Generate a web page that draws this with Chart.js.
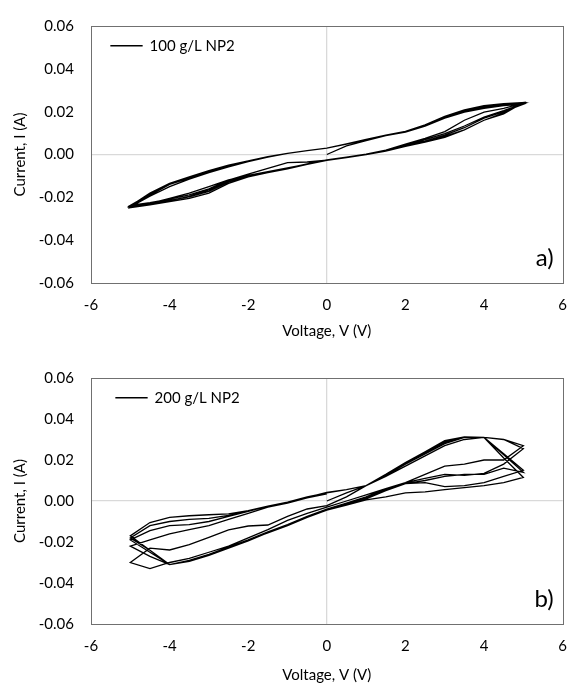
<!DOCTYPE html>
<html>
<head>
<meta charset="utf-8">
<script src="https://cdn.jsdelivr.net/npm/chart.js@4/dist/chart.umd.min.js"></script>
<style>
  html, body { margin: 0; padding: 0; background: #ffffff; }
  .wrap { position: relative; width: 580px; }
  #boxA { position: relative; width: 580px; height: 340px; }
  #boxB { position: relative; width: 580px; height: 344px; }
</style>
</head>
<body>
<div class="wrap">
  <div id="boxA"><canvas id="chartA"></canvas></div>
  <div id="boxB"><canvas id="chartB"></canvas></div>
</div>
<script>
// ---------- sweep voltages (one cycle after the start point: 0.5 -> 5 -> -5 -> 0) ----------
const sweepV = [0.5, 1, 1.5, 2, 2.5, 3, 3.5, 4, 4.5, 5,
                4.5, 4, 3.5, 3, 2.5, 2, 1.5, 1, 0.5, 0,
                -0.5, -1, -1.5, -2, -2.5, -3, -3.5, -4, -4.5, -5,
                -4.5, -4, -3.5, -3, -2.5, -2, -1.5, -1, -0.5, 0];
const startV = 0;

// ---------- axis ticks ----------
const xTicks = [-6, -4, -2, 0, 2, 4, 6];
const yTicks = [-0.06, -0.04, -0.02, 0.00, 0.02, 0.04, 0.06];

// ---------- panel a: 100 g/L NP2 (current, A) ----------
const labelA = "100 g/L NP2";
const startIA = 0.000;
const a1 = [0.0040, 0.0065, 0.0088, 0.0105, 0.0135, 0.0172, 0.0200, 0.0220, 0.0232, 0.0238,
            0.0205, 0.0175, 0.0133, 0.0098, 0.0070, 0.0045, 0.0020, 0.0002, -0.0012, -0.0025,
            -0.0045, -0.0063, -0.0080, -0.0097, -0.0125, -0.0165, -0.0195, -0.0215, -0.0232, -0.0245,
            -0.0195, -0.0150, -0.0115, -0.0085, -0.0058, -0.0033, -0.0012, 0.0005, 0.0018, 0.0030];
const a2 = [0.0050, 0.0070, 0.0090, 0.0107, 0.0137, 0.0176, 0.0206, 0.0228, 0.0236, 0.0242,
            0.0195, 0.0160, 0.0115, 0.0085, 0.0060, 0.0040, 0.0017, 0.0000, -0.0013, -0.0026,
            -0.0045, -0.0065, -0.0080, -0.0097, -0.0118, -0.0150, -0.0180, -0.0205, -0.0228, -0.0240,
            -0.0180, -0.0135, -0.0105, -0.0075, -0.0050, -0.0030, -0.0010, 0.0005, 0.0018, 0.0030];
const a3 = [0.0048, 0.0068, 0.0088, 0.0105, 0.0133, 0.0170, 0.0198, 0.0215, 0.0228, 0.0235,
            0.0200, 0.0170, 0.0125, 0.0090, 0.0062, 0.0042, 0.0018, 0.0000, -0.0013, -0.0026,
            -0.0035, -0.0038, -0.0065, -0.0092, -0.0120, -0.0160, -0.0188, -0.0208, -0.0225, -0.0238,
            -0.0185, -0.0140, -0.0110, -0.0080, -0.0055, -0.0031, -0.0011, 0.0005, 0.0018, 0.0030];
const a4 = [0.0050, 0.0070, 0.0090, 0.0108, 0.0138, 0.0178, 0.0208, 0.0228, 0.0238, 0.0243,
            0.0190, 0.0160, 0.0115, 0.0080, 0.0058, 0.0038, 0.0016, -0.0001, -0.0014, -0.0027,
            -0.0046, -0.0067, -0.0085, -0.0105, -0.0135, -0.0180, -0.0205, -0.0220, -0.0235, -0.0248,
            -0.0190, -0.0140, -0.0108, -0.0078, -0.0052, -0.0030, -0.0010, 0.0005, 0.0018, 0.0030];
const a5 = [0.0049, 0.0069, 0.0089, 0.0106, 0.0136, 0.0174, 0.0204, 0.0224, 0.0234, 0.0240,
            0.0215, 0.0198, 0.0160, 0.0107, 0.0075, 0.0048, 0.0020, 0.0002, -0.0012, -0.0025,
            -0.0044, -0.0064, -0.0080, -0.0100, -0.0128, -0.0172, -0.0198, -0.0214, -0.0230, -0.0242,
            -0.0185, -0.0140, -0.0110, -0.0080, -0.0053, -0.0031, -0.0011, 0.0005, 0.0018, 0.0030];

// ---------- panel b: 200 g/L NP2 (current, A) ----------
const labelB = "200 g/L NP2";
const startIB = 0.000;
const b1 = [0.0040, 0.0075, 0.0120, 0.0170, 0.0220, 0.0270, 0.0300, 0.0310, 0.0300, 0.0270,
            0.0200, 0.0200, 0.0180, 0.0170, 0.0130, 0.0090, 0.0060, 0.0030, 0.0000, -0.0030,
            -0.0060, -0.0095, -0.0140, -0.0180, -0.0220, -0.0250, -0.0280, -0.0300, -0.0330, -0.0300,
            -0.0230, -0.0239, -0.0213, -0.0177, -0.0141, -0.0122, -0.0117, -0.0075, -0.0039, -0.0023];
const b2 = [0.0020, 0.0075, 0.0130, 0.0188, 0.0240, 0.0294, 0.0313, 0.0310, 0.0230, 0.0150,
            0.0120, 0.0090, 0.0075, 0.0070, 0.0090, 0.0085, 0.0050, 0.0010, -0.0020, -0.0045,
            -0.0080, -0.0115, -0.0150, -0.0190, -0.0225, -0.0260, -0.0290, -0.0310, -0.0240, -0.0170,
            -0.0105, -0.0080, -0.0072, -0.0067, -0.0063, -0.0047, -0.0025, -0.0006, 0.0018, 0.0042];
const b3 = [0.0055, 0.0075, 0.0130, 0.0188, 0.0240, 0.0290, 0.0310, 0.0310, 0.0225, 0.0140,
            0.0160, 0.0130, 0.0130, 0.0120, 0.0100, 0.0085, 0.0055, 0.0015, -0.0015, -0.0045,
            -0.0080, -0.0120, -0.0155, -0.0195, -0.0230, -0.0265, -0.0295, -0.0310, -0.0240, -0.0180,
            -0.0120, -0.0100, -0.0090, -0.0085, -0.0070, -0.0050, -0.0025, -0.0005, 0.0020, 0.0040];
const b4 = [0.0055, 0.0075, 0.0125, 0.0180, 0.0230, 0.0280, 0.0310, 0.0310, 0.0210, 0.0115,
            0.0090, 0.0075, 0.0065, 0.0055, 0.0045, 0.0040, 0.0020, 0.0005, -0.0020, -0.0045,
            -0.0080, -0.0120, -0.0155, -0.0190, -0.0225, -0.0260, -0.0290, -0.0310, -0.0250, -0.0190,
            -0.0145, -0.0120, -0.0115, -0.0100, -0.0075, -0.0050, -0.0025, -0.0005, 0.0018, 0.0040];
const b5 = [0.0055, 0.0075, 0.0130, 0.0185, 0.0235, 0.0285, 0.0310, 0.0310, 0.0300, 0.0255,
            0.0180, 0.0135, 0.0125, 0.0130, 0.0110, 0.0090, 0.0060, 0.0020, -0.0010, -0.0040,
            -0.0075, -0.0115, -0.0150, -0.0190, -0.0225, -0.0260, -0.0290, -0.0310, -0.0270, -0.0220,
            -0.0190, -0.0160, -0.0140, -0.0120, -0.0090, -0.0060, -0.0030, -0.0010, 0.0015, 0.0035];

// ---------- build point lists ----------
function buildPoints(startI, cycles) {
  const pts = [{ x: startV, y: startI }];
  cycles.forEach(c => c.forEach((v, i) => pts.push({ x: sweepV[i], y: v })));
  return pts;
}

const FONT = "Lato, 'Open Sans', 'Liberation Sans', sans-serif";

const framePlugin = {
  id: 'frame',
  afterDraw(chart, args, opts) {
    const { ctx, chartArea: a } = chart;
    ctx.save();
    ctx.strokeStyle = '#707070';
    ctx.lineWidth = 1;
    ctx.strokeRect(Math.round(a.left) + 0.5, Math.round(a.top) + 0.5,
                   Math.round(a.right - a.left), Math.round(a.bottom - a.top));
    ctx.fillStyle = '#000';
    ctx.font = "24px " + FONT;
    ctx.textAlign = 'right';
    ctx.textBaseline = 'alphabetic';
    ctx.fillText(opts.tag, a.right - 9, a.bottom - 17);
    ctx.restore();
  }
};

function makeChart(id, label, pts, tag, pad, xAxisH, legPadX, legPadY) {
  return new Chart(document.getElementById(id), {
    type: 'scatter',
    data: {
      datasets: [{
        label: label,
        data: pts,
        showLine: true,
        borderColor: '#000000',
        backgroundColor: '#000000',
        borderWidth: 1.3,
        pointRadius: 0,
        pointHoverRadius: 0,
        tension: 0
      }]
    },
    options: {
      responsive: true,
      maintainAspectRatio: false,
      animation: false,
      events: [],
      layout: { padding: pad },
      scales: {
        x: {
          type: 'linear',
          min: xTicks[0], max: xTicks[xTicks.length - 1],
          afterBuildTicks: s => { s.ticks = xTicks.map(v => ({ value: v })); },
          afterFit: s => { s.height = xAxisH; },
          ticks: {
            color: '#000', font: { family: FONT, size: 15 }, padding: 13,
            maxRotation: 0, callback: v => String(v)
          },
          grid: {
            drawTicks: false,
            color: c => (c.tick && c.tick.value === 0) ? '#d9d9d9' : 'rgba(0,0,0,0)',
            lineWidth: 1.3
          },
          border: { display: false },
          title: {
            display: true, text: 'Voltage, V (V)', color: '#000',
            font: { family: FONT, size: 15 }, padding: { top: 0, bottom: 0 }
          }
        },
        y: {
          type: 'linear',
          min: yTicks[0], max: yTicks[yTicks.length - 1],
          afterBuildTicks: s => { s.ticks = yTicks.map(v => ({ value: v })); },
          afterFit: s => { s.width = 91; },
          ticks: {
            color: '#000', font: { family: FONT, size: 15 }, padding: 17,
            callback: v => Number(v).toFixed(2)
          },
          grid: {
            drawTicks: false,
            color: c => (c.tick && Math.abs(c.tick.value) < 1e-9) ? '#d9d9d9' : 'rgba(0,0,0,0)',
            lineWidth: 1.3
          },
          border: { display: false },
          title: {
            display: true, text: 'Current, I (A)', color: '#000',
            font: { family: FONT, size: 15 }, padding: { top: 11, bottom: 0 }
          }
        }
      },
      plugins: {
        legend: {
          position: 'chartArea',
          align: 'start',
          title: {
            display: true, text: ' ',
            font: { size: 1 },
            padding: { top: 0, bottom: legPadY }
          },
          labels: {
            color: '#000',
            font: { family: FONT, size: 15 },
            boxWidth: 31,
            boxHeight: 0.3,
            padding: legPadX
          }
        },
        tooltip: { enabled: false },
        frame: { tag: tag }
      }
    },
    plugins: [framePlugin]
  });
}

makeChart('chartA', labelA, buildPoints(startIA, [a1, a2, a3, a4, a5]), 'a)',
          { top: 18, right: 13, left: 0, bottom: 0 }, 57, 20, 17);
makeChart('chartB', labelB, buildPoints(startIB, [b1, b2, b3, b4, b5]), 'b)',
          { top: 38, right: 16, left: 0, bottom: 0 }, 60, 25, 24);
</script>
</body>
</html>
